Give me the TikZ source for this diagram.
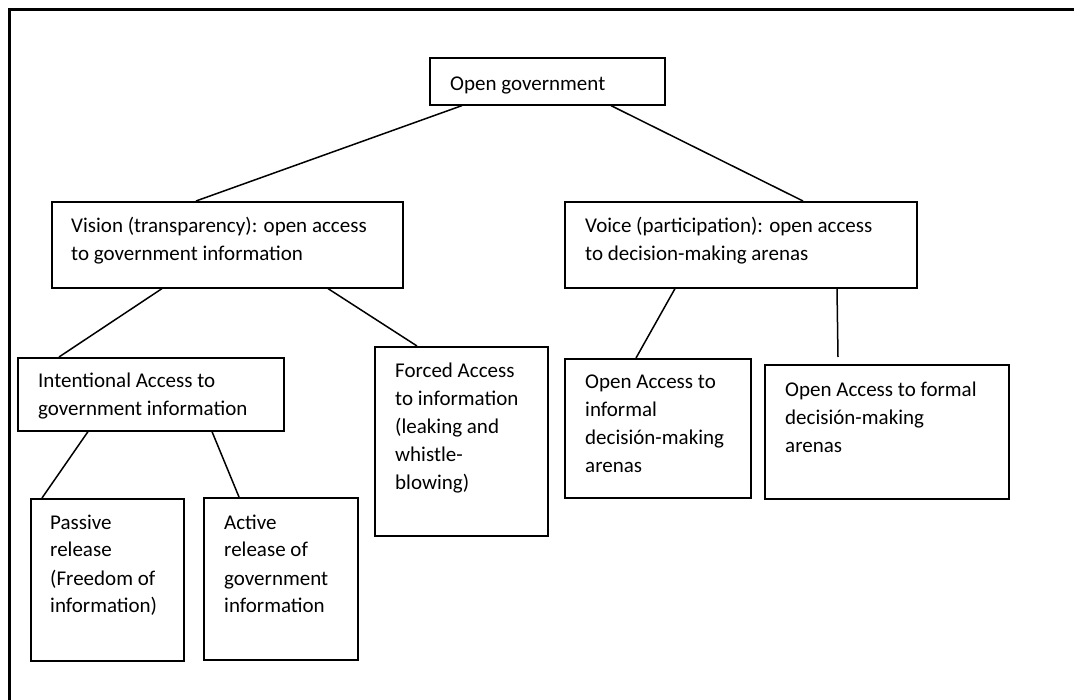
\documentclass[tikz,border=0pt]{standalone}
\usepackage{fontspec}
\setmainfont{Carlito}
% left-aligned lines whose baseline is the first line
\newcommand\boxlines[1]{\begin{tabular}[t]{@{}l@{}}#1\end{tabular}}
\begin{document}
\begin{tikzpicture}[x=1pt,y=-1pt,
  box/.style={draw, line width=1.6pt, rectangle, anchor=north west, inner sep=0pt},
  txt/.style={anchor=base west, inner sep=0pt, font=\fontsize{21}{28}\selectfont},
  link/.style={line width=1.5pt}]
\useasboundingbox (0,0) rectangle (1074,700);
\clip (0,0) rectangle (1074,700);
% outer frame (runs past the right and bottom edges)
\draw[line width=2.4pt] (9.5,9.5) rectangle (1090,720);

% boxes
\node[box, minimum width=235pt, minimum height=47pt]  (og)  at (429,57)  {};
\node[box, minimum width=351pt, minimum height=86pt]  (vis) at (51,201)  {};
\node[box, minimum width=352pt, minimum height=86pt]  (voi) at (564,201) {};
\node[box, minimum width=266pt, minimum height=73pt]  (int) at (17,357)  {};
\node[box, minimum width=173pt, minimum height=189pt] (frc) at (374,346) {};
\node[box, minimum width=186pt, minimum height=139pt] (inf) at (564,358) {};
\node[box, minimum width=244pt, minimum height=134pt] (frm) at (764,364) {};
\node[box, minimum width=153pt, minimum height=162pt] (pas) at (30,498)  {};
\node[box, minimum width=154pt, minimum height=162pt] (act) at (203,497) {};

% texts
\node[txt] (ogt)  at (450,91)  {Open government};
\node[txt] (vist) at (71,233)  {\boxlines{Vision (transparency): open access\\to government information}};
\node[txt] (voit) at (585,233) {\boxlines{Voice (participation): open access\\to decision-making arenas}};
\node[txt] (intt) at (38,388)  {\boxlines{Intentional Access to\\government information}};
\node[txt] (frct) at (395,378) {\boxlines{Forced Access\\to information\\(leaking and\\whistle-\\blowing)}};
\node[txt] (inft) at (585,389) {\boxlines{Open Access to\\informal\\decisión-making\\arenas}};
\node[txt] (frmt) at (785,397) {\boxlines{Open Access to formal\\decisión-making\\arenas}};
\node[txt] (past) at (50,529)  {\boxlines{Passive\\release\\(Freedom of\\information)}};
\node[txt] (actt) at (224,529) {\boxlines{Active\\release of\\government\\information}};

% connectors
\coordinate (frmtop) at (838,357);
\draw[link] ([xshift=33pt]og.south west)   -- ([xshift=145pt]vis.north west);
\draw[link] ([xshift=182pt]og.south west)  -- ([xshift=239pt]voi.north west);
\draw[link] ([xshift=111pt]vis.south west) -- ([xshift=42pt]int.north west);
\draw[link] ([xshift=277pt]vis.south west) -- ([xshift=43pt]frc.north west);
\draw[link] ([xshift=71pt]int.south west)  -- ([xshift=12pt]pas.north west);
\draw[link] ([xshift=195pt]int.south west) -- ([xshift=36pt]act.north west);
\draw[link] ([xshift=111pt]voi.south west) -- ([xshift=72pt]inf.north west);
\draw[link] ([xshift=273pt]voi.south west) -- (frmtop);
\end{tikzpicture}
\end{document}
